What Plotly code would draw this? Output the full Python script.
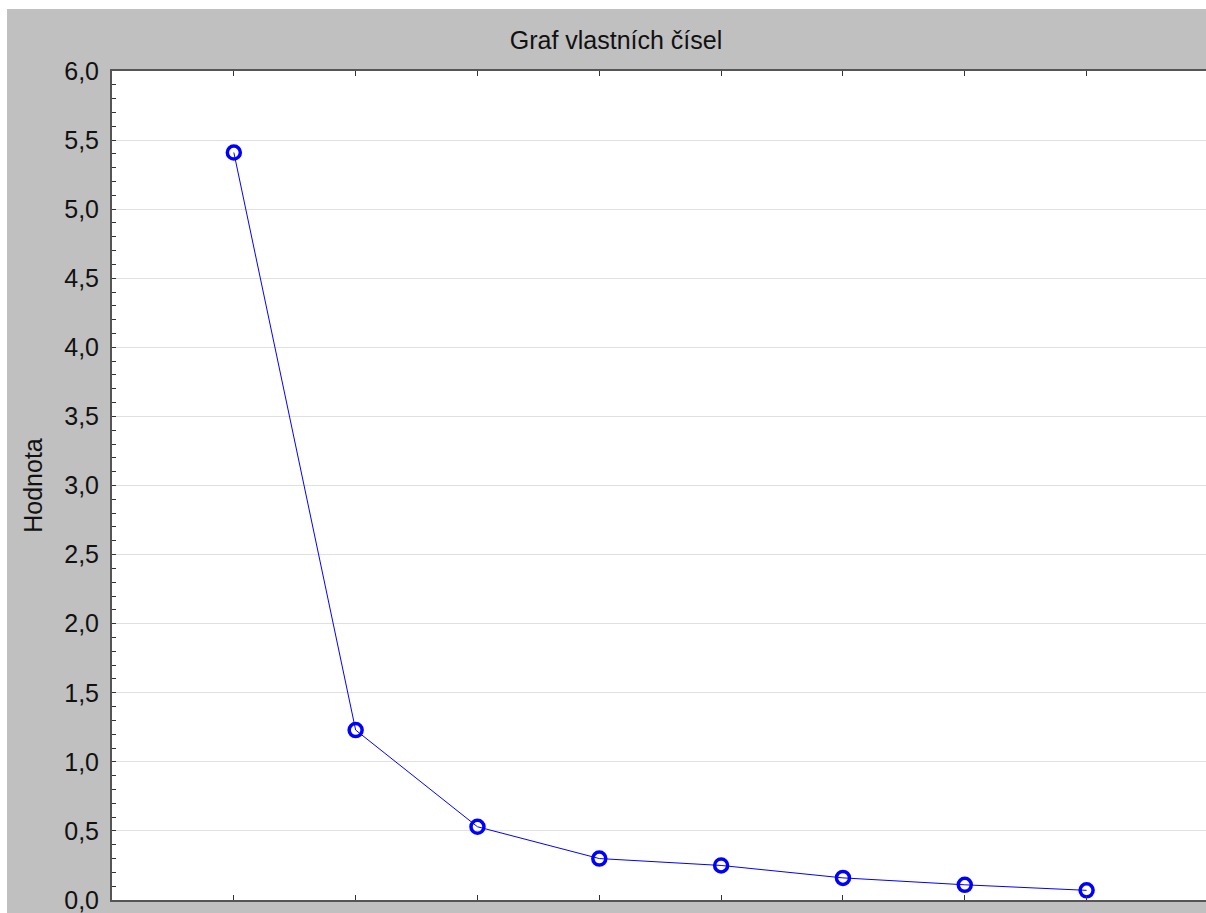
import plotly.graph_objects as go

# Data
components = [1, 2, 3, 4, 5, 6, 7, 8]
eigenvalues = [5.41, 1.23, 0.53, 0.30, 0.25, 0.16, 0.11, 0.07]
title_text = "Graf vlastních čísel"
y_title = "Hodnota"

W, H = 1206, 913
ML, MR, MT, MB = 112, 0, 71, 13
PW, PH = W - ML - MR, H - MT - MB


def px_x(p):
    return (p - ML) / PW


def px_y(p):
    return (H - MB - p) / PH


fig = go.Figure()
fig.add_trace(go.Scatter(
    x=components, y=eigenvalues, mode="lines+markers",
    line=dict(color="#0000ff", width=1),
    marker=dict(symbol="circle-open", size=13, color="#0000ff",
                line=dict(color="#0000ff", width=3.5)),
    showlegend=False, cliponaxis=False,
))

# white frame strips at the top and left edges of the picture
shapes = [
    dict(type="rect", xref="paper", yref="paper", x0=px_x(-5), x1=px_x(W + 5),
         y0=px_y(9), y1=px_y(-5), fillcolor="white", line=dict(width=0), layer="above"),
    dict(type="rect", xref="paper", yref="paper", x0=px_x(-5), x1=px_x(7),
         y0=px_y(H + 5), y1=px_y(-5), fillcolor="white", line=dict(width=0), layer="above"),
]

fig.update_layout(
    width=W, height=H,
    margin=dict(l=ML, r=MR, t=MT, b=MB),
    paper_bgcolor="#c0c0c0", plot_bgcolor="white",
    separators=", ",
    shapes=shapes,
    font=dict(family="Liberation Sans, Arial, sans-serif", color="#111111"),
    title=dict(text=title_text, x=616 / W, xref="container", xanchor="center",
               y=1 - 40 / H, yref="container", yanchor="middle",
               font=dict(size=25, color="#111111")),
    xaxis=dict(range=[0, 8.98], tickvals=components, showticklabels=False,
               ticks="inside", ticklen=5, tickwidth=1, tickcolor="#333333",
               showline=True, linecolor="#555555", linewidth=2, mirror="ticks",
               showgrid=False, zeroline=False),
    yaxis=dict(range=[0, 6], dtick=0.5, tickformat=".1f",
               ticks="inside", ticklen=4, tickwidth=1, tickcolor="#333333",
               minor=dict(dtick=0.1, ticks="inside", ticklen=4, tickcolor="#333333",
                          showgrid=False),
               showline=True, linecolor="#555555", linewidth=2,
               showgrid=True, gridcolor="#e0e0e0", gridwidth=1, zeroline=False,
               tickfont=dict(size=25, color="#111111"), ticklabelstandoff=6,
               ticklabeloverflow="allow",
               title=dict(text=y_title, font=dict(size=25, color="#111111"), standoff=14)),
)

fig.write_html(
    "out.html",
    config={"displayModeBar": False},
    post_script="document.body.style.margin='0';"
                "document.documentElement.style.overflow='hidden';"
                "document.body.style.overflow='hidden';",
)
